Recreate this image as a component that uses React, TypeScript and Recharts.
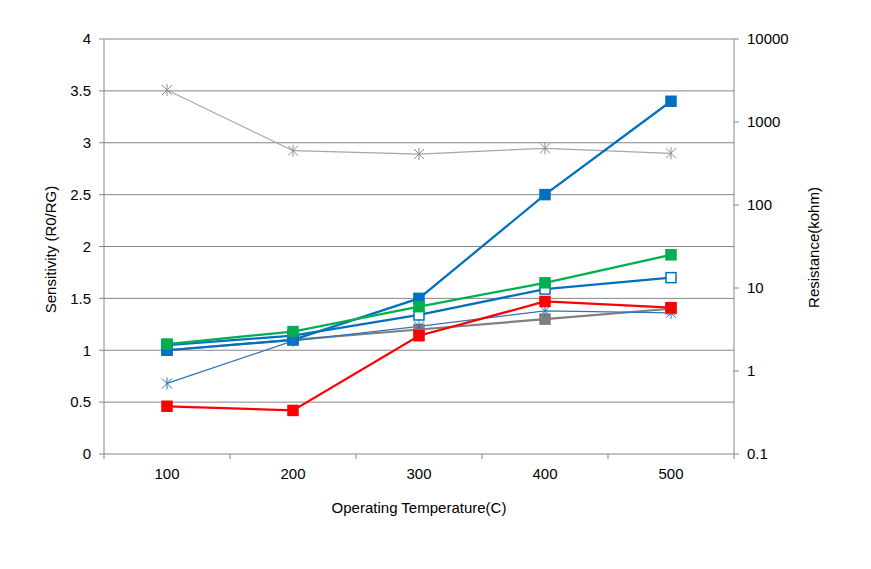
import React from 'react';
import { LineChart, Line, XAxis, YAxis, CartesianGrid, Label } from 'recharts';

// operating temperature categories (C)
const temperatures = ['100', '200', '300', '400', '500'];

// sensitivity series (left axis)
const blueSolid = [1.0, 1.1, 1.5, 2.5, 3.4];
const greenSolid = [1.06, 1.18, 1.42, 1.65, 1.92];
const blueOpen = [1.05, 1.14, 1.34, 1.59, 1.7];
const graySolid = [1.0, 1.1, 1.2, 1.3, 1.4];
const blueStar = [0.68, 1.09, 1.23, 1.38, 1.36];
const redSolid = [0.46, 0.42, 1.14, 1.47, 1.41];

// resistance (right axis, kohm)
const resistance = [2430, 451, 411, 482, 420];

const leftTicks = [0, 0.5, 1, 1.5, 2, 2.5, 3, 3.5, 4];
const rightTicks = [0.1, 1, 10, 100, 1000, 10000];

const data = temperatures.map((t, i) => ({
  temp: t,
  blueSolid: blueSolid[i],
  greenSolid: greenSolid[i],
  blueOpen: blueOpen[i],
  graySolid: graySolid[i],
  blueStar: blueStar[i],
  redSolid: redSolid[i],
  resistance: resistance[i],
}));

const GRID = '#868686';
const FONT = 15;
const X_TICK_MARGIN = 14;

const squareDot = (fill: string, stroke: string) => (props: any) => {
  const { cx, cy, index } = props;
  if (cx == null || cy == null) return <g key={index} />;
  return <rect key={index} x={cx - 5} y={cy - 5} width={10} height={10} fill={fill} stroke={stroke} strokeWidth={1.5} />;
};

const starDot = (color: string) => (props: any) => {
  const { cx, cy, index } = props;
  if (cx == null || cy == null) return <g key={index} />;
  const r = 5;
  return (
    <g key={index} stroke={color} strokeWidth={1}>
      <line x1={cx - r} y1={cy - r} x2={cx + r} y2={cy + r} />
      <line x1={cx - r} y1={cy + r} x2={cx + r} y2={cy - r} />
      <line x1={cx} y1={cy - r - 1} x2={cx} y2={cy + r + 1} />
    </g>
  );
};

// category label at band centre, tick marks at band edges (Excel style)
const CategoryTick = (props: any) => {
  const { x, y, payload, index, visibleTicksCount } = props;
  const half = payload && payload.offset ? payload.offset : 63;
  const axisY = y - X_TICK_MARGIN;
  const last = index === (visibleTicksCount ?? temperatures.length) - 1;
  return (
    <g>
      <line x1={x - half} y1={axisY} x2={x - half} y2={axisY + 5} stroke={GRID} />
      {last && <line x1={x + half} y1={axisY} x2={x + half} y2={axisY + 5} stroke={GRID} />}
      <text x={x} y={y} dy="0.71em" textAnchor="middle" fontSize={FONT} fill="#000">
        {payload.value}
      </text>
    </g>
  );
};

export default function App() {
  return (
    <div style={{ width: 871, height: 569, fontFamily: '"Liberation Sans", Arial, sans-serif', background: '#fff' }}>
      <style>{'body{margin:0}'}</style>
      <LineChart width={871} height={569} data={data} margin={{ top: 39, right: 37, bottom: 55, left: 43 }}>
        <CartesianGrid yAxisId="left" xAxisId="cat" horizontal vertical={false} stroke={GRID} strokeOpacity={1} />
        <XAxis
          xAxisId="cat"
          dataKey="temp"
          scale="band"
          height={60}
          axisLine={false}
          tickLine={false}
          tickSize={0}
          tickMargin={X_TICK_MARGIN}
          interval={0}
          tick={<CategoryTick />}
        >
          <Label
            content={({ viewBox }: any) => (
              <text x={viewBox.x + viewBox.width / 2} y={viewBox.y + 53} textAnchor="middle" dominantBaseline="central" fontSize={FONT} fill="#000">
                Operating Temperature(C)
              </text>
            )}
          />
        </XAxis>
        <YAxis
          yAxisId="left"
          domain={[0, 4]}
          ticks={leftTicks}
          width={61}
          stroke={GRID}
          tickSize={5}
          tickMargin={8}
          tick={{ fill: '#000', fontSize: FONT }}
        >
          <Label
            content={({ viewBox }: any) => {
              const x = viewBox.x + 7;
              const y = viewBox.y + viewBox.height / 2 + 3;
              return (
                <text x={x} y={y} transform={`rotate(-90 ${x} ${y})`} textAnchor="middle" dominantBaseline="central" fontSize={FONT} fill="#000">
                  Sensitivity (R0/RG)
                </text>
              );
            }}
          />
        </YAxis>
        <YAxis
          yAxisId="right"
          orientation="right"
          scale="log"
          domain={[0.1, 10000]}
          ticks={rightTicks}
          allowDataOverflow
          width={100}
          stroke={GRID}
          tickSize={5}
          tickMargin={8}
          tick={{ fill: '#000', fontSize: FONT }}
        >
          <Label
            content={({ viewBox }: any) => {
              const x = viewBox.x + 79;
              const y = viewBox.y + viewBox.height / 2 + 1;
              return (
                <text x={x} y={y} transform={`rotate(-90 ${x} ${y})`} textAnchor="middle" dominantBaseline="central" fontSize={FONT} fill="#000">
                  Resistance(kohm)
                </text>
              );
            }}
          />
        </YAxis>

        <Line xAxisId="cat" yAxisId="right" dataKey="resistance" stroke="#A6A6A6" strokeWidth={1.25} dot={starDot('#8C8C8C')} isAnimationActive={false} />
        <Line xAxisId="cat" yAxisId="left" dataKey="graySolid" stroke="#7F7F7F" strokeWidth={2.25} dot={squareDot('#7F7F7F', '#7F7F7F')} isAnimationActive={false} />
        <Line xAxisId="cat" yAxisId="left" dataKey="blueOpen" stroke="#0070C0" strokeWidth={2.25} dot={squareDot('#FFFFFF', '#0070C0')} isAnimationActive={false} />
        <Line xAxisId="cat" yAxisId="left" dataKey="blueSolid" stroke="#0070C0" strokeWidth={2.25} dot={squareDot('#0070C0', '#0070C0')} isAnimationActive={false} />
        <Line xAxisId="cat" yAxisId="left" dataKey="greenSolid" stroke="#00B050" strokeWidth={2.25} dot={squareDot('#00B050', '#00B050')} isAnimationActive={false} />
        <Line xAxisId="cat" yAxisId="left" dataKey="blueStar" stroke="#2F75B5" strokeWidth={1.25} dot={starDot('#2F75B5')} isAnimationActive={false} />
        <Line xAxisId="cat" yAxisId="left" dataKey="redSolid" stroke="#FF0000" strokeWidth={2.25} dot={squareDot('#FF0000', '#FF0000')} isAnimationActive={false} />
      </LineChart>
    </div>
  );
}
